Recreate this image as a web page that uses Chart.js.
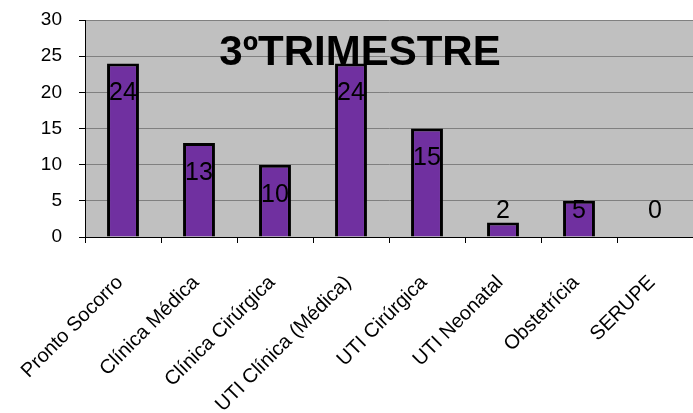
<!DOCTYPE html>
<html>
<head>
<meta charset="utf-8">
<script src="https://cdn.jsdelivr.net/npm/chart.js@4"></script>
<style>
html,body{margin:0;padding:0;background:#fff;}
canvas{display:block;}
</style>
</head>
<body>
<canvas id="c" width="693" height="413" style="width:693px;height:413px"></canvas>
<script>
const categories = ["Pronto Socorro","Clínica Médica","Clínica Cirúrgica","UTI Clínica (Médica)","UTI Cirúrgica","UTI Neonatal","Obstetrícia","SERUPE"];
const values = [24,13,10,24,15,2,5,0];
const yTicks = [0,5,10,15,20,25,30];
const titleText = "3ºTRIMESTRE";

const FONT = "'Liberation Sans', Arial, sans-serif";

const bgPlugin = {
  id: 'bg',
  beforeDraw(chart) {
    const {ctx, chartArea: a} = chart;
    ctx.save();
    ctx.fillStyle = '#C0C0C0';
    ctx.fillRect(a.left, a.top, a.right - a.left, a.bottom - a.top);
    ctx.restore();
  }
};

const labelPlugin = {
  id: 'labels',
  afterDatasetsDraw(chart) {
    const ctx = chart.ctx;
    const meta = chart.getDatasetMeta(0);
    const base = chart.scales.y.getPixelForValue(0);
    ctx.save();
    ctx.font = "25px " + FONT;
    ctx.fillStyle = '#000';
    ctx.textAlign = 'center';
    ctx.textBaseline = 'middle';
    meta.data.forEach((bar, i) => {
      const yc = Math.min(bar.y + 30, base - 26);
      ctx.fillText(String(values[i]), bar.x, yc);
    });
    ctx.font = "bold 42px " + FONT;
    ctx.textBaseline = 'alphabetic';
    ctx.fillText(titleText, 360, 65);
    ctx.restore();
  }
};

new Chart(document.getElementById('c'), {
  type: 'bar',
  data: {
    labels: categories,
    datasets: [{
      data: values,
      backgroundColor: '#7030A0',
      borderColor: '#000',
      borderWidth: 3,
      barPercentage: 0.42,
      categoryPercentage: 1.0
    }]
  },
  options: {
    responsive: false,
    animation: false,
    devicePixelRatio: 1,
    layout: { padding: { top: 20, left: 0, right: 0, bottom: 0 } },
    plugins: { legend: { display: false }, tooltip: { enabled: false }, title: { display: false } },
    scales: {
      x: {
        offset: true,
        grid: { display: true, drawOnChartArea: false, drawTicks: true, tickLength: 6, tickColor: '#000', offset: true },
        border: { display: true, color: '#000', width: 1 },
        ticks: {
          autoSkip: false, maxRotation: 45, minRotation: 45,
          font: { family: FONT, size: 20 }, color: '#000',
          padding: 28, labelOffset: -3
        },
        afterFit(scale) { scale.height = 176; scale.paddingLeft = 0; scale.paddingRight = 0; }
      },
      y: {
        min: 0, max: 30,
        afterBuildTicks(scale) { scale.ticks = yTicks.map(v => ({ value: v })); },
        grid: { color: '#808080', tickColor: '#000', tickLength: 6, drawTicks: true },
        border: { display: true, color: '#000', width: 1 },
        ticks: { font: { family: FONT, size: 19 }, color: '#000', padding: 17 },
        afterFit(scale) { scale.width = 85; scale.paddingTop = 0; scale.paddingBottom = 0; }
      }
    }
  },
  plugins: [bgPlugin, labelPlugin]
});
</script>
</body>
</html>
